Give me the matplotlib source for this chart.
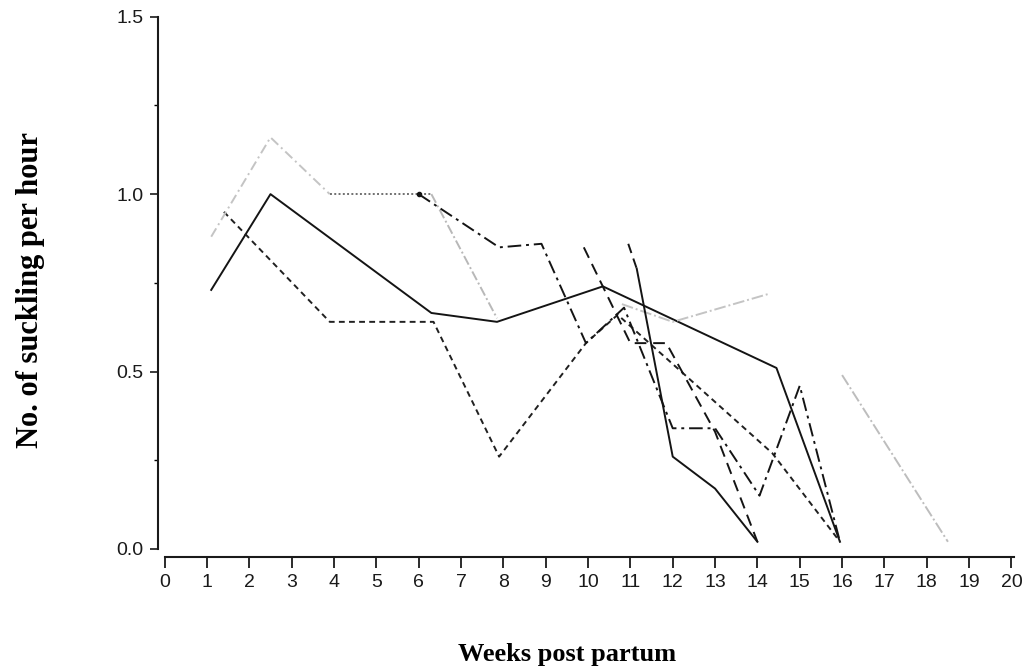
import matplotlib.pyplot as plt
import numpy as np

# weekly suckling rates, one list pair per animal
weeks_a = [1.1, 2.5, 6.3, 7.85, 10.35, 14.45, 15.95]
rate_a = [0.73, 1.0, 0.665, 0.64, 0.74, 0.51, 0.02]

weeks_b = [1.4, 3.9, 6.35, 7.9, 9.95, 10.7, 14.35, 15.95]
rate_b = [0.95, 0.64, 0.64, 0.26, 0.58, 0.66, 0.27, 0.02]

weeks_c = [1.1, 2.5, 3.9]
rate_c = [0.88, 1.16, 1.0]
weeks_c_flat = [3.9, 6.3]
rate_c_flat = [1.0, 1.0]
weeks_c_drop = [6.3, 7.85]
rate_c_drop = [1.0, 0.65]
weeks_c_late = [10.8, 12.0, 14.3]
rate_c_late = [0.69, 0.64, 0.72]

weeks_d = [6.0, 7.9, 8.9, 9.95, 10.85, 12.0, 13.0, 14.05, 15.0, 15.95]
rate_d = [1.0, 0.85, 0.86, 0.58, 0.68, 0.34, 0.34, 0.15, 0.46, 0.02]

weeks_e = [9.9, 11.0, 11.85, 13.0, 14.0]
rate_e = [0.85, 0.58, 0.58, 0.33, 0.02]

weeks_f = [10.95, 11.15, 12.0, 13.0, 14.0]
rate_f = [0.86, 0.79, 0.26, 0.17, 0.02]

weeks_g = [16.0, 18.5]
rate_g = [0.49, 0.02]

xticks = list(range(0, 21))
yticks = [0.0, 0.5, 1.0, 1.5]

fig = plt.figure(figsize=(10.29, 6.71), dpi=100)
ax = fig.add_axes([0.160, 0.182, 0.825, 0.793])

lw = 1.4
ax.plot(weeks_a, rate_a, color='#141414', lw=lw)
ax.plot(weeks_b, rate_b, color='#202020', lw=lw, dashes=(3, 2.2))
ax.plot(weeks_c, rate_c, color='#c4c4c4', lw=lw, dashes=(5, 2, 1, 2))
ax.plot(weeks_c_flat, rate_c_flat, color='#707070', lw=lw, dashes=(1, 1.2))
ax.plot(weeks_c_drop, rate_c_drop, color='#b8b8b8', lw=lw, dashes=(5, 1.5, 1, 1.5))
ax.plot(weeks_c_late, rate_c_late, color='#c4c4c4', lw=lw, dashes=(6, 1.5, 1, 1.5))
ax.plot(weeks_d, rate_d, color='#141414', lw=lw, dashes=(7, 2.5, 1.5, 2.5),
        marker='o', markersize=3, markevery=[0])
ax.plot(weeks_e, rate_e, color='#141414', lw=lw, dashes=(6, 3.5))
ax.plot(weeks_f[:2], rate_f[:2], color='#141414', lw=lw, dashes=(5, 3))
ax.plot(weeks_f[1:], rate_f[1:], color='#141414', lw=lw)
ax.plot(weeks_g, rate_g, color='#bdbdbd', lw=lw, dashes=(6, 1.5, 1, 1.5))

ax.set_xlim(0, 20.05)
ax.set_ylim(0, 1.5)
ax.spines['top'].set_visible(False)
ax.spines['right'].set_visible(False)
ax.spines['left'].set_position(('outward', 5))
ax.spines['bottom'].set_position(('outward', 6))
for s in ['left', 'bottom']:
    ax.spines[s].set_linewidth(1.5)
    ax.spines[s].set_color('#1a1a1a')

tick_font = ['Liberation Sans', 'DejaVu Sans']
ax.set_xticks(xticks)
ax.set_xticklabels([str(t) for t in xticks], family=tick_font, fontsize=14)
ax.set_yticks(yticks)
ax.set_yticklabels(['%.1f' % t for t in yticks], family=tick_font, fontsize=14)
ax.set_yticks(np.arange(0.25, 1.5, 0.5), minor=True)
ax.tick_params(axis='x', direction='out', length=8, width=1.3, pad=4, colors='#1a1a1a')
ax.tick_params(axis='y', direction='out', length=6, width=1.2, pad=4, colors='#1a1a1a')
ax.tick_params(axis='y', which='minor', direction='out', length=3, width=1.0)

ax.set_xlabel('Weeks post partum', family='Liberation Serif', fontweight='bold',
              fontsize=19, ha='center', va='center')
ax.xaxis.set_label_coords(0.474, -0.199)
ax.set_ylabel('No. of suckling per hour', family='Liberation Serif', fontweight='bold',
              fontsize=22, ha='center', va='center', rotation_mode='default')
ax.yaxis.set_label_coords(-0.158, 0.487)

fig.savefig('out.png', dpi=100)
